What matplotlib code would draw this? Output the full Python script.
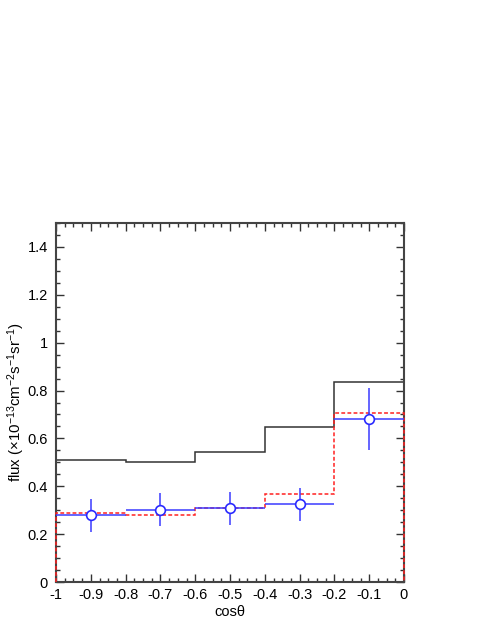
import numpy as np
import matplotlib
matplotlib.use("Agg")
import matplotlib.pyplot as plt
from matplotlib.ticker import MultipleLocator, FuncFormatter

plt.rcParams['font.family'] = ['Liberation Sans', 'DejaVu Sans']
plt.rcParams['axes.unicode_minus'] = False
plt.rcParams['mathtext.fontset'] = 'custom'
plt.rcParams['mathtext.rm'] = 'Liberation Sans'
plt.rcParams['mathtext.it'] = 'Liberation Sans'
plt.rcParams['mathtext.bf'] = 'Liberation Sans'

edges = [-1.0, -0.8, -0.6, -0.4, -0.2, 0.0]
black_hist = [0.511, 0.500, 0.543, 0.649, 0.837]
red_hist = [0.288, 0.281, 0.309, 0.366, 0.708]
x_centers = [-0.9, -0.7, -0.5, -0.3, -0.1]
blue_vals = [0.279, 0.302, 0.309, 0.325, 0.683]
blue_err_up = [0.067, 0.070, 0.067, 0.069, 0.129]
blue_err_lo = [0.070, 0.068, 0.069, 0.070, 0.130]
x_halfwidth = [0.1, 0.1, 0.1, 0.1, 0.1]

fig = plt.figure(figsize=(4.85, 6.27), dpi=100)
ax = fig.add_axes([56/485, 45/627, 348/485, 359/627])

ax.stairs(black_hist, edges, baseline=None, color='#333333', lw=1.1, zorder=2)
ax.stairs(red_hist, edges, baseline=0, color='#ff2020', lw=1.1, ls=(0, (2.5, 1.5)),
          zorder=3, clip_on=False)
ax.errorbar(x_centers, blue_vals, yerr=[blue_err_lo, blue_err_up], xerr=x_halfwidth,
            fmt='o', ms=7, mfc='white', mec='#2a2aff', mew=1.2, color='#3a3aff',
            elinewidth=1.1, capsize=0, zorder=4)

ax.set_xlim(-1, 0)
ax.set_ylim(0, 1.5)
ax.xaxis.set_major_locator(MultipleLocator(0.1))
ax.xaxis.set_minor_locator(MultipleLocator(0.025))
ax.yaxis.set_major_locator(MultipleLocator(0.2))
ax.yaxis.set_minor_locator(MultipleLocator(0.05))
lab = lambda v, p: '%g' % round(v, 3) if abs(v) > 1e-9 else '0'
ax.xaxis.set_major_formatter(FuncFormatter(lab))
ax.yaxis.set_major_formatter(FuncFormatter(lab))

ax.tick_params(which='both', direction='in', top=True, right=True, color='#333333', width=1.0)
ax.tick_params(which='major', length=5.5, labelsize=10.5)
ax.tick_params(axis='x', which='major', pad=4.5)
ax.tick_params(axis='y', which='major', pad=6)
ax.tick_params(which='minor', length=2.7)
for s in ax.spines.values():
    s.set_linewidth(1.5)
    s.set_color('#444444')

ax.set_xlabel('cosθ', fontsize=10.5, labelpad=2)
ax.set_ylabel('flux (×10$^{-13}$cm$^{-2}$s$^{-1}$sr$^{-1}$)', fontsize=10.8)
ax.yaxis.set_label_coords(-0.083, 0.5)

fig.savefig('out.png', dpi=100)
